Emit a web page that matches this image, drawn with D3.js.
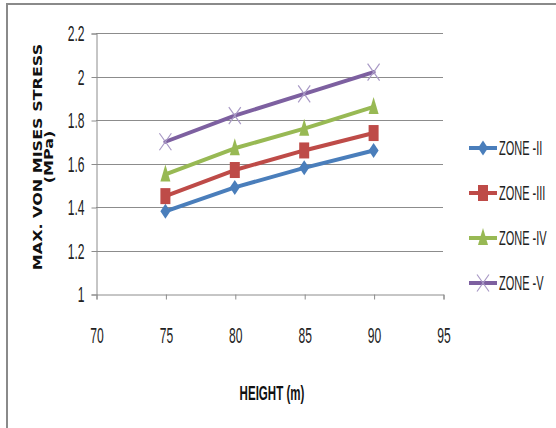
<!DOCTYPE html>
<html>
<head>
<meta charset="utf-8">
<script src="https://cdn.jsdelivr.net/npm/d3@7"></script>
<style>
  html, body { margin: 0; padding: 0; background: #fff; }
  svg { display: block; }
</style>
</head>
<body>
<svg id="chart" width="556" height="428"></svg>
<script>
// Height of structure (m) and max. von Mises stress (MPa) per seismic zone
const heights = [75, 80, 85, 90];
const zoneII  = [1.38, 1.49, 1.58, 1.66];
const zoneIII = [1.45, 1.57, 1.66, 1.74];
const zoneIV  = [1.55, 1.67, 1.76, 1.86];
const zoneV   = [1.70, 1.82, 1.92, 2.02];
const seriesNames = ["ZONE -II", "ZONE -III", "ZONE -IV", "ZONE -V"];
const xTicks = [70, 75, 80, 85, 90, 95];
const yTicks = [1, 1.2, 1.4, 1.6, 1.8, 2, 2.2];

const series = [
  { name: seriesNames[0], values: zoneII,  color: "#4a7ebb", marker: "diamond" },
  { name: seriesNames[1], values: zoneIII, color: "#be4b48", marker: "square" },
  { name: seriesNames[2], values: zoneIV,  color: "#98b954", marker: "triangle" },
  { name: seriesNames[3], values: zoneV,   color: "#7d60a0", marker: "cross" }
];

const svg = d3.select("#chart");
const labelFont = "'Liberation Sans', Arial, sans-serif";
const SQ = 0.55; // horizontal condensing of the label glyphs

// outer frame (top and left edges)
svg.append("line").attr("x1", 6).attr("x2", 556).attr("y1", 4).attr("y2", 4)
  .attr("stroke", "#8a8a8a").attr("stroke-width", 2);
svg.append("line").attr("x1", 7).attr("x2", 7).attr("y1", 3).attr("y2", 428)
  .attr("stroke", "#8a8a8a").attr("stroke-width", 2);

const x = d3.scaleLinear().domain([70, 95]).range([96, 443]);
const y = d3.scaleLinear().domain([1, 2.2]).range([294, 33]);

// horizontal gridlines
svg.append("g").selectAll("line").data(yTicks.slice(1)).join("line")
  .attr("x1", x(70)).attr("x2", x(95))
  .attr("y1", d => Math.round(y(d)) + 0.5).attr("y2", d => Math.round(y(d)) + 0.5)
  .attr("stroke", "#8c8c8c").attr("stroke-width", 1);

// y axis
const yAxis = d3.axisLeft(y).tickValues(yTicks).tickSize(5).tickPadding(7)
  .tickFormat(d3.format("~g"));
const gy = svg.append("g").attr("transform", `translate(${x(70) + 0.5},0.5)`).call(yAxis);
gy.select(".domain").attr("stroke", "#8c8c8c");
gy.selectAll(".tick line").attr("stroke", "#8c8c8c");
gy.selectAll(".tick text").each(function () {
  const t = d3.select(this);
  const tx = +t.attr("x");
  t.attr("x", 0).attr("transform", `translate(${tx},0) scale(${SQ},1)`);
}).attr("font-family", labelFont).attr("font-size", 22).attr("fill", "#222");

// x axis
const xAxis = d3.axisBottom(x).tickValues(xTicks).tickSize(5).tickPadding(28);
const gx = svg.append("g").attr("transform", `translate(0.5,${y(1) + 0.5})`).call(xAxis);
gx.select(".domain").attr("stroke", "#8c8c8c");
gx.selectAll(".tick line").attr("stroke", "#8c8c8c");
gx.selectAll(".tick text").attr("transform", `scale(${SQ},1)`)
  .attr("font-family", labelFont).attr("font-size", 22).attr("fill", "#222");

// axis titles
svg.append("text").attr("transform", `translate(272,400) scale(${SQ},1)`)
  .attr("text-anchor", "middle")
  .attr("font-family", labelFont).attr("font-weight", "bold").attr("font-size", 21)
  .attr("fill", "#111").text("HEIGHT (m)");

const yt = svg.append("text")
  .attr("transform", "translate(42,157) scale(0.72,1) rotate(-90)")
  .attr("text-anchor", "middle")
  .attr("font-family", "'DejaVu Sans', Verdana, sans-serif").attr("font-weight", "bold")
  .attr("font-size", 16).attr("fill", "#111");
yt.append("tspan").attr("x", 0).attr("dy", 0).text("MAX. VON MISES STRESS");
yt.append("tspan").attr("x", 0).attr("dy", 15.5).text("(MPa)");

// marker drawing (glyphs are taller than wide)
function drawMarker(g, type, color, cx, cy) {
  if (type === "diamond") {
    g.append("path").attr("d", `M${cx},${cy - 7.5}L${cx + 5},${cy}L${cx},${cy + 7.5}L${cx - 5},${cy}Z`)
      .attr("fill", color);
  } else if (type === "square") {
    g.append("rect").attr("x", cx - 5).attr("y", cy - 8).attr("width", 10).attr("height", 16)
      .attr("fill", color);
  } else if (type === "triangle") {
    g.append("path").attr("d", `M${cx},${cy - 10}L${cx + 5},${cy + 7}L${cx - 5},${cy + 7}Z`)
      .attr("fill", color);
  } else {
    g.append("path").attr("d", `M${cx - 6},${cy - 8.5}L${cx + 6},${cy + 8.5}M${cx + 6},${cy - 8.5}L${cx - 6},${cy + 8.5}`)
      .attr("stroke", "#a99ac6").attr("stroke-width", 1.2).attr("fill", "none");
  }
}

const line = d3.line().x(d => x(d[0])).y(d => y(d[1]));

series.forEach(s => {
  const pts = heights.map((h, i) => [h, s.values[i]]);
  const g = svg.append("g");
  g.append("path").datum(pts).attr("d", line)
    .attr("fill", "none").attr("stroke", s.color).attr("stroke-width", 4)
    .attr("stroke-linejoin", "round").attr("stroke-linecap", "round");
  pts.forEach(p => drawMarker(g, s.marker, s.color, x(p[0]), y(p[1])));
});

// legend
const legend = svg.append("g");
series.forEach((s, i) => {
  const ly = 148 + i * 45;
  legend.append("line").attr("x1", 469).attr("x2", 497).attr("y1", ly).attr("y2", ly)
    .attr("stroke", s.color).attr("stroke-width", 4);
  drawMarker(legend, s.marker, s.color, 483, ly);
  legend.append("text").attr("transform", `translate(499,${ly + 7}) scale(${SQ},1)`)
    .attr("font-family", labelFont).attr("font-size", 20).attr("fill", "#222")
    .text(s.name);
});
</script>
</body>
</html>
